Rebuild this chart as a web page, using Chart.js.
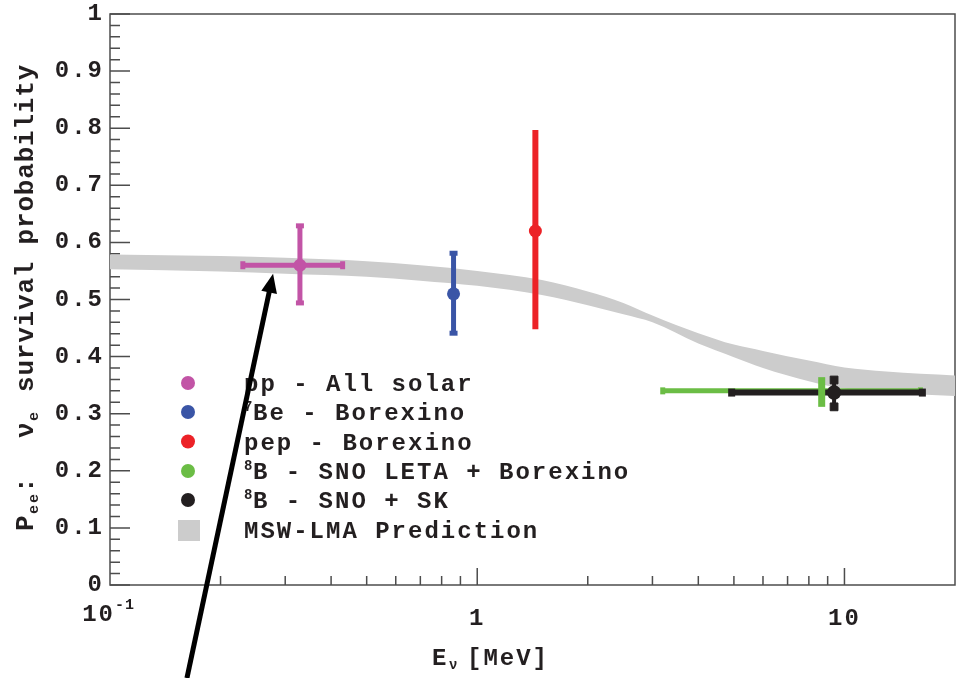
<!DOCTYPE html>
<html>
<head>
<meta charset="utf-8">
<script src="https://cdn.jsdelivr.net/npm/chart.js@4"></script>
<style>
  html, body { margin: 0; padding: 0; background: #ffffff; }
  canvas { display: block; }
</style>
</head>
<body>
<canvas id="pee" width="961" height="678"></canvas>
<script>
// Solar neutrino survival probability Pee versus neutrino energy

// Measurements
const sourceNames   = ['pp - All solar', 'Be - Borexino', 'pep - Borexino', 'B - SNO LETA + Borexino', 'B - SNO + SK'];
const sourceIsotope = ['', '7', '', '8', '8'];
const energy     = [0.329, 0.862, 1.44, 8.67, 9.37];   // MeV
const pee        = [0.56, 0.51, 0.62, 0.34, 0.337];
const energyLow  = [0.23, null, null, 3.2, 4.93];
const energyHigh = [0.43, null, null, 16.1, 16.3];
const peeLow     = [0.494, 0.441, 0.448, 0.312, 0.312];
const peeHigh    = [0.629, 0.581, 0.797, 0.364, 0.359];

// MSW-LMA prediction band
const bandLabel  = 'MSW-LMA Prediction';
const bandEnergy = [0.1, 0.2, 0.3, 0.5, 0.7, 1, 1.5, 2, 2.5, 3, 4, 5, 6, 8, 10, 13, 20];
const bandUpper  = [0.579, 0.576, 0.573, 0.567, 0.560, 0.550, 0.534, 0.514, 0.494, 0.472, 0.441, 0.421, 0.410, 0.393, 0.381, 0.374, 0.367];
const bandLower  = [0.553, 0.549, 0.545, 0.540, 0.533, 0.524, 0.508, 0.490, 0.474, 0.460, 0.423, 0.399, 0.380, 0.357, 0.344, 0.337, 0.331];

// Axes
const yTickValues = [0, 0.1, 0.2, 0.3, 0.4, 0.5, 0.6, 0.7, 0.8, 0.9, 1];
const yTickLabels = ['0', '0.1', '0.2', '0.3', '0.4', '0.5', '0.6', '0.7', '0.8', '0.9', '1'];
const xTickValues = [1, 10];
const xTickLabels = ['1', '10'];
const xMajorMarks = [1, 10];
const xMinorMarks = [0.2, 0.3, 0.4, 0.5, 0.6, 0.7, 0.8, 0.9, 2, 3, 4, 5, 6, 7, 8, 9];
const yMinorStep = 0.02;

// Arrow pointing at the pp measurement (energy, Pee)
const arrowTail = [0.162, -0.163];
const arrowTip  = [0.278, 0.545];

// Styles
const FONT = '"Liberation Mono", "DejaVu Sans Mono", monospace';
const TEXT = '#231f20';
const FRAME = '#4d4d4d';
const BAND = '#cccccc';
const colors = ['#c254a6', '#3a55a6', '#ec2227', '#6bbd45', '#231f20'];
const markerRadius = [6.5, 6.5, 6.5, 2.5, 7.2];
const hStyle = [
  { width: 5, cap: 'line', capR: 4, capW: 5 },
  null, null,
  { width: 5, cap: 'line', capR: 3.5, capW: 5 },
  { width: 6, cap: 'line', capR: 4, capW: 7 }
];
const vStyle = [
  { width: 5, cap: 'line', capR: 4, capW: 5 },
  { width: 5, cap: 'line', capR: 4, capW: 5 },
  { width: 6, cap: 'line', capR: 0, capW: 0 },
  { width: 7, cap: 'line', capR: 0, capW: 0 },
  { width: 4, cap: 'rect', capR: 5.5, capW: 1 }
];
const bold = s => `bold ${s}px ${FONT}`;

// Datasets (lower order is drawn on top)
const datasets = [];
datasets.push({
  label: bandLabel + ' upper', order: 20,
  data: bandEnergy.map((e, i) => ({ x: e, y: bandUpper[i] })),
  showLine: true, borderWidth: 0, borderColor: BAND, pointRadius: 0,
  cubicInterpolationMode: 'monotone', fill: false
});
datasets.push({
  label: bandLabel, order: 19,
  data: bandEnergy.map((e, i) => ({ x: e, y: bandLower[i] })),
  showLine: true, borderWidth: 0, borderColor: BAND, backgroundColor: BAND, pointRadius: 0,
  cubicInterpolationMode: 'monotone', fill: '-1'
});
sourceNames.forEach((name, i) => {
  const c = colors[i];
  const h = hStyle[i];
  if (h && energyLow[i] !== null) {
    datasets.push({
      label: name + ' energy range', order: 10 - i * 0.1,
      data: [{ x: energyLow[i], y: pee[i] }, { x: energyHigh[i], y: pee[i] }],
      showLine: true, borderColor: c, borderWidth: h.width, borderCapStyle: 'butt',
      pointStyle: h.cap, rotation: 90, pointRadius: h.capR,
      pointBorderWidth: h.capW, pointBorderColor: c, pointBackgroundColor: c
    });
  }
  const v = vStyle[i];
  datasets.push({
    label: name + ' uncertainty', order: 6 - i * 0.1,
    data: [{ x: energy[i], y: peeLow[i] }, { x: energy[i], y: peeHigh[i] }],
    showLine: true, borderColor: c, borderWidth: v.width, borderCapStyle: 'butt',
    pointStyle: v.cap, rotation: 0, pointRadius: v.capR,
    pointBorderWidth: v.capW, pointBorderColor: c, pointBackgroundColor: c
  });
  datasets.push({
    label: name, order: 1 - i * 0.1,
    data: [{ x: energy[i], y: pee[i] }],
    showLine: false, pointStyle: 'circle', pointRadius: markerRadius[i],
    pointBackgroundColor: c, pointBorderColor: c, pointBorderWidth: 0
  });
});

// Frame, inward tick marks, legend, axis titles and arrow
const decor = {
  id: 'decor',
  beforeDraw(chart) {
    chart.ctx.letterSpacing = '2px';
  },
  beforeDatasetsDraw(chart) {
    const { ctx, chartArea: a, scales: { x, y } } = chart;
    ctx.save();
    ctx.strokeStyle = FRAME;
    ctx.lineWidth = 1.5;
    ctx.beginPath();
    for (let k = 0; k <= 50; k++) {
      const py = y.getPixelForValue(k * yMinorStep);
      const len = (k % 5 === 0) ? 20 : 10;
      ctx.moveTo(a.left, py); ctx.lineTo(a.left + len, py);
    }
    xMajorMarks.forEach(v => {
      const px = x.getPixelForValue(v);
      ctx.moveTo(px, a.bottom); ctx.lineTo(px, a.bottom - 17);
    });
    xMinorMarks.forEach(v => {
      const px = x.getPixelForValue(v);
      ctx.moveTo(px, a.bottom); ctx.lineTo(px, a.bottom - 9);
    });
    ctx.stroke();
    ctx.strokeRect(a.left, a.top, a.right - a.left, a.bottom - a.top);
    ctx.restore();
  },
  afterDraw(chart) {
    const { ctx, chartArea: a, scales: { x, y } } = chart;
    ctx.save();
    ctx.letterSpacing = '2px';
    ctx.fillStyle = TEXT;
    ctx.textBaseline = 'alphabetic';

    // 10^-1 label at the left end of the energy axis
    const x0 = x.getPixelForValue(0.1);
    ctx.textAlign = 'right';
    ctx.font = bold(24);
    ctx.fillText('10', x0 + 5, a.bottom + 36);
    ctx.textAlign = 'left';
    ctx.font = bold(15);
    ctx.letterSpacing = '1px';
    ctx.fillText('-1', x0 + 5, a.bottom + 24);

    // Legend
    ctx.letterSpacing = '2px';
    const lx = 188, tx = 244, rows = [383, 412, 441.5, 471, 500, 530];
    sourceNames.forEach((name, i) => {
      const ry = rows[i];
      ctx.fillStyle = colors[i];
      ctx.beginPath();
      ctx.arc(lx, ry, 7, 0, Math.PI * 2);
      ctx.fill();
      ctx.fillStyle = TEXT;
      let cx = tx;
      if (sourceIsotope[i]) {
        ctx.font = bold(14);
        ctx.fillText(sourceIsotope[i], cx, ry - 1);
        cx += 9;
      }
      ctx.font = bold(24);
      ctx.fillText(name, cx, ry + 8);
    });
    ctx.fillStyle = BAND;
    ctx.fillRect(178, rows[5] - 10, 22, 21);
    ctx.fillStyle = TEXT;
    ctx.font = bold(24);
    ctx.fillText(bandLabel, tx, rows[5] + 8);

    // Energy axis title
    ctx.font = bold(24);
    ctx.fillText('E', 432, 665);
    ctx.font = bold(14);
    ctx.fillText('ν', 449, 669);
    ctx.font = bold(24);
    ctx.fillText('[MeV]', 467, 665);

    // Probability axis title, reading upward
    ctx.save();
    ctx.translate(33, 531);
    ctx.rotate(-Math.PI / 2);
    ctx.font = bold(26);
    ctx.fillText('P', 0, 0);
    ctx.font = bold(15);
    ctx.fillText('ee', 17, 5);
    ctx.font = bold(26);
    ctx.fillText(':', 38, 0);
    ctx.fillText('ν', 93, 0);
    ctx.font = bold(15);
    ctx.fillText('e', 110, 5);
    ctx.font = bold(26);
    ctx.letterSpacing = '0.8px';
    ctx.fillText('survival probability', 139, 0);
    ctx.restore();

    // Arrow
    const ax0 = x.getPixelForValue(arrowTail[0]), ay0 = y.getPixelForValue(arrowTail[1]);
    const ax1 = x.getPixelForValue(arrowTip[0]),  ay1 = y.getPixelForValue(arrowTip[1]);
    const ang = Math.atan2(ay1 - ay0, ax1 - ax0);
    const headLen = 19, headHalf = 8;
    const bx = ax1 - headLen * Math.cos(ang), by = ay1 - headLen * Math.sin(ang);
    ctx.strokeStyle = '#000000';
    ctx.lineWidth = 5;
    ctx.beginPath();
    ctx.moveTo(ax0, ay0);
    ctx.lineTo(bx + 2 * Math.cos(ang), by + 2 * Math.sin(ang));
    ctx.stroke();
    ctx.fillStyle = '#000000';
    ctx.beginPath();
    ctx.moveTo(ax1, ay1);
    ctx.lineTo(bx + headHalf * Math.sin(ang), by - headHalf * Math.cos(ang));
    ctx.lineTo(bx - headHalf * Math.sin(ang), by + headHalf * Math.cos(ang));
    ctx.closePath();
    ctx.fill();
    ctx.restore();
  }
};

new Chart(document.getElementById('pee'), {
  type: 'scatter',
  data: { datasets },
  plugins: [decor],
  options: {
    responsive: false,
    animation: false,
    events: [],
    layout: { autoPadding: false, padding: { top: 14, right: 6, left: 0, bottom: 0 } },
    plugins: { legend: { display: false }, tooltip: { enabled: false } },
    scales: {
      x: {
        type: 'logarithmic', min: 0.1, max: 20,
        grid: { display: false }, border: { display: false },
        afterFit: s => { s.height = 93; s.paddingLeft = 0; s.paddingRight = 0; },
        afterBuildTicks: s => { s.ticks = xTickValues.map(v => ({ value: v })); },
        ticks: {
          autoSkip: false, maxRotation: 0, padding: 14, color: TEXT,
          font: { family: FONT, size: 24, weight: 'bold', lineHeight: 1 },
          callback: v => { const i = xTickValues.indexOf(v); return i >= 0 ? xTickLabels[i] : ''; }
        }
      },
      y: {
        min: 0, max: 1,
        grid: { display: false }, border: { display: false },
        afterFit: s => { s.width = 110; s.paddingTop = 0; s.paddingBottom = 0; },
        afterBuildTicks: s => { s.ticks = yTickValues.map(v => ({ value: v })); },
        ticks: {
          autoSkip: false, padding: -2, color: TEXT,
          font: { family: FONT, size: 24, weight: 'bold', lineHeight: 1 },
          callback: (v, i) => yTickLabels[i]
        }
      }
    }
  }
});
</script>
</body>
</html>
